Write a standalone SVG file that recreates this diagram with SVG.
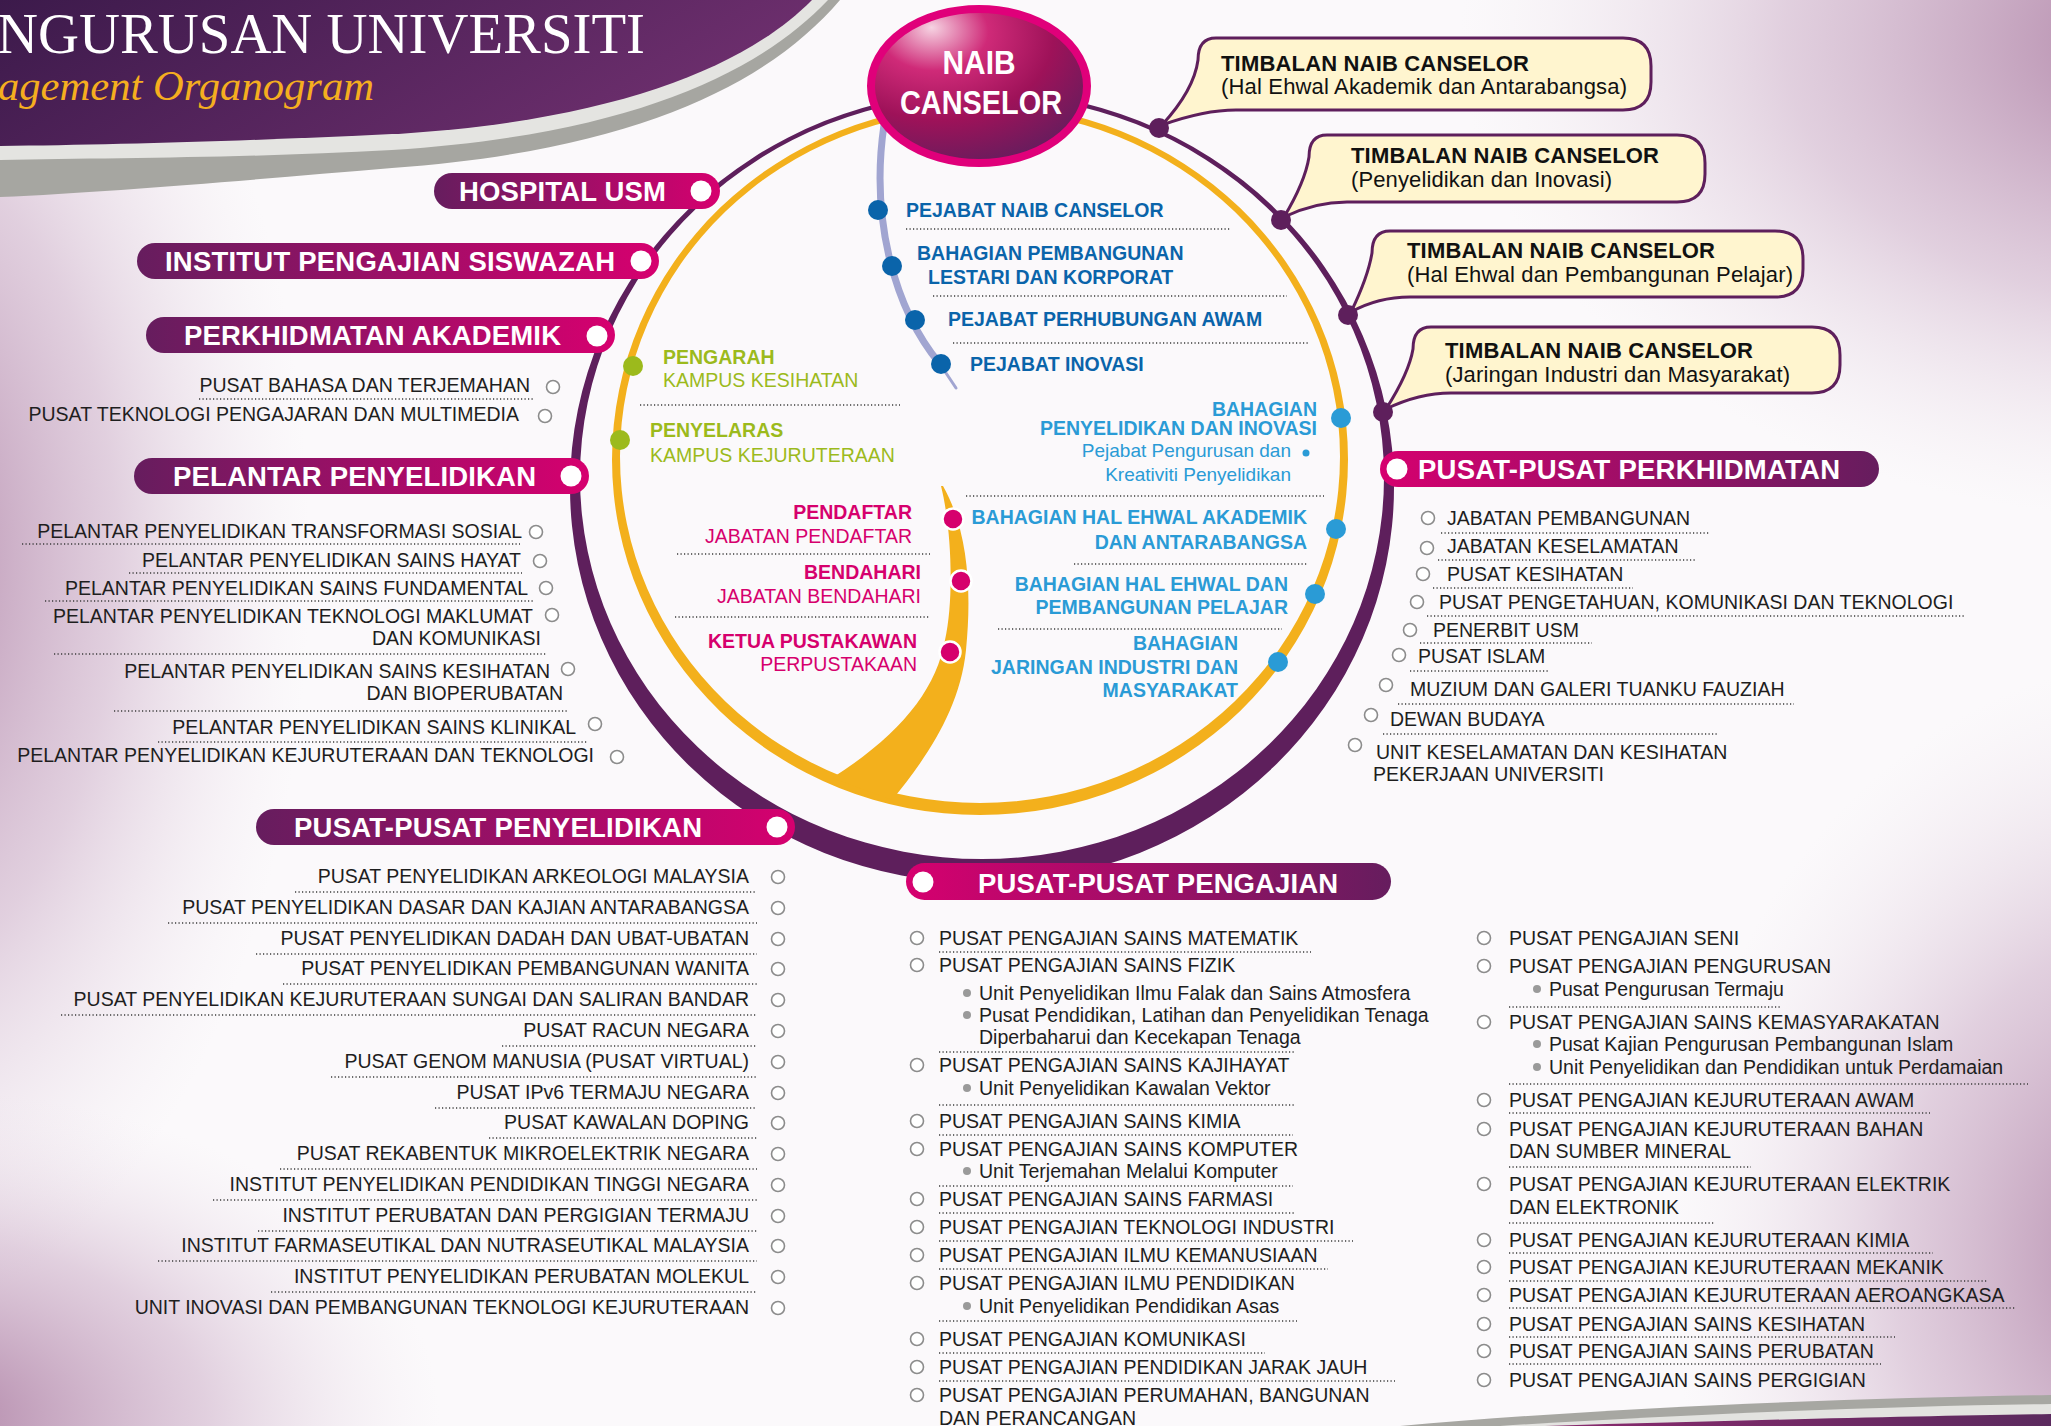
<svg xmlns="http://www.w3.org/2000/svg" width="2051" height="1426" viewBox="0 0 2051 1426">
<defs>
<radialGradient id="fadeP"><stop offset="0" stop-color="#A9799F" stop-opacity="0.95"/><stop offset="0.55" stop-color="#C7A6C2" stop-opacity="0.5"/><stop offset="1" stop-color="#E8DCE7" stop-opacity="0"/></radialGradient>
<linearGradient id="gTitle" x1="0" y1="0" x2="1" y2="0.3"><stop offset="0" stop-color="#3C1A4B"/><stop offset="1" stop-color="#6E2F6E"/></linearGradient>
<linearGradient id="pillL" x1="0" x2="1" y1="0" y2="0"><stop offset="0" stop-color="#661D5E"/><stop offset="1" stop-color="#D6006F"/></linearGradient>
<linearGradient id="pillR" x1="0" x2="1" y1="0" y2="0"><stop offset="0" stop-color="#D6006F"/><stop offset="1" stop-color="#661D5E"/></linearGradient>
<linearGradient id="gBot" x1="0" x2="1" y1="0" y2="0"><stop offset="0" stop-color="#8A2A6E"/><stop offset="1" stop-color="#5B2A5E"/></linearGradient>
<radialGradient id="gNC" cx="0.32" cy="0.22" r="0.9" fx="0.28" fy="0.12"><stop offset="0" stop-color="#F6D3E2"/><stop offset="0.28" stop-color="#CF2A78"/><stop offset="0.6" stop-color="#9E1259"/><stop offset="1" stop-color="#5A1F5E"/></radialGradient>
</defs>
<style>
.f{font-family:"Liberation Sans",Arial,sans-serif}
.pt{font-family:"Liberation Sans",Arial,sans-serif;font-weight:bold;font-size:27.5px;fill:#fff}
.pd{fill:#fff}
.li{font-family:"Liberation Sans",Arial,sans-serif;font-size:19.5px;fill:#1e1e1e}
.lr{text-anchor:end}
.oc{fill:#fff;stroke:#8c8c8c;stroke-width:1.6}
.bu{fill:#9a9a9a}
.dt{fill:none;stroke:#3c3c3c;stroke-width:1.3;stroke-dasharray:1.2 2.3}
.b{font-weight:bold}
.cb{fill:#0A64AA}
.cl{fill:#2A9BD6}
.cg{fill:#9CBA1C}
.cp{fill:#D6006D}
.pk{fill:#D6006D;stroke:#fff;stroke-width:2.5}
.bub{fill:#FFF5CF;stroke:#5E1F5C;stroke-width:3}
.tn{font-family:"Liberation Sans",Arial,sans-serif;font-size:22px;fill:#111}
.rd{fill:#5E1F5C}
</style>

<!-- background -->
<rect width="2051" height="1426" fill="#FBF9FB"/>
<ellipse cx="-120" cy="560" rx="430" ry="760" fill="url(#fadeP)"/>
<ellipse cx="-80" cy="1420" rx="520" ry="330" fill="url(#fadeP)"/>
<ellipse cx="2180" cy="40" rx="720" ry="480" fill="url(#fadeP)"/>
<ellipse cx="2170" cy="1260" rx="500" ry="600" fill="url(#fadeP)"/>

<!-- title banner -->
<g id="title">
<path d="M0,0 H840 C770,82 640,150 392,168 C250,180 110,192 0,197 Z" fill="#A6A6A1"/>
<path d="M0,0 H828 C758,74 628,135 392,150 C250,158 110,158 0,160 Z" fill="#E4E4E1"/>
<path d="M0,0 H812 C745,68 610,122 392,134 C250,141 110,145 0,146 Z" fill="url(#gTitle)"/>
<text x="-3" y="53" font-family="Liberation Serif, serif" font-size="58" fill="#fff" textLength="648" lengthAdjust="spacingAndGlyphs">NGURUSAN UNIVERSITI</text>
<text x="-2" y="100" font-family="Liberation Serif, serif" font-style="italic" font-size="42" fill="#F5AE1F" textLength="376" lengthAdjust="spacingAndGlyphs">agement Organogram</text>
</g>

<!-- bottom swoosh -->
<path d="M1400,1426 C1600,1408 1850,1398 2051,1395 V1426 Z" fill="#A7A7A2"/>
<path d="M1500,1426 C1700,1413 1900,1406 2051,1404 V1426 Z" fill="#E3E3E0"/>
<path d="M1545,1426 C1750,1420 1920,1416 2051,1414 V1426 Z" fill="url(#gBot)"/>

<!-- connectors -->
<g id="connectors">
<path fill="#F3B01C" fill-rule="evenodd" d="M612,459.5 A368,355.5 0 1 0 1348,459.5 A368,355.5 0 1 0 612,459.5 Z M620,456.5 A360,346.5 0 1 0 1340,456.5 A360,346.5 0 1 0 620,456.5 Z"/>
<path fill="#5E1F5C" fill-rule="evenodd" d="M570,487 A412,396 0 1 0 1394,487 A412,396 0 1 0 570,487 Z M580,477 A402,382 0 1 0 1384,477 A402,382 0 1 0 580,477 Z"/>
<path d="M884,125 C870,220 895,310 940,364" fill="none" stroke="#A1A5D1" stroke-width="7" stroke-linecap="round"/>
<path d="M940,364 Q948,376 956,388" fill="none" stroke="#A1A5D1" stroke-width="3" stroke-linecap="round"/>
<path d="M941,486 C952,530 954,600 945,640 C936,690 900,735 832,778 L892,800 C925,760 960,710 966,650 C972,590 968,530 943,486 Z" fill="#F3B01C"/>
</g>

<!-- Naib Canselor -->
<g id="naib-canselor">
<ellipse cx="979" cy="86" rx="108" ry="77" fill="url(#gNC)" stroke="#E0007A" stroke-width="8"/>
<text class="f b" x="979" y="74" font-size="33" fill="#fff" text-anchor="middle" textLength="73" lengthAdjust="spacingAndGlyphs">NAIB</text>
<text class="f b" x="981" y="114" font-size="33" fill="#fff" text-anchor="middle" textLength="162" lengthAdjust="spacingAndGlyphs">CANSELOR</text>
</g>

<!-- TNC callouts -->
<g id="tnc-akademik">
<path class="bub" d="M1216,38 H1623 Q1651,38 1651,66 V82 Q1651,110 1623,110 H1236 Q1204,110 1162,125 Q1194,90 1198,60 Q1198,38 1216,38 Z"/>
<circle class="rd" cx="1159" cy="128" r="10"/>
<text class="tn b" x="1221" y="71" textLength="308">TIMBALAN NAIB CANSELOR</text>
<text class="tn" x="1221" y="94" textLength="406">(Hal Ehwal Akademik dan Antarabangsa)</text>
</g>
<g id="tnc-penyelidikan">
<path class="bub" d="M1327,135 H1677 Q1705,135 1705,163 V174 Q1705,202 1677,202 H1347 Q1315,202 1284,217 Q1305,182 1309,157 Q1309,135 1327,135 Z"/>
<circle class="rd" cx="1281" cy="220" r="10"/>
<text class="tn b" x="1351" y="163" textLength="308">TIMBALAN NAIB CANSELOR</text>
<text class="tn" x="1351" y="187" textLength="261">(Penyelidikan dan Inovasi)</text>
</g>
<g id="tnc-pelajar">
<path class="bub" d="M1390,231 H1775 Q1803,231 1803,259 V269 Q1803,297 1775,297 H1410 Q1378,297 1351,312 Q1368,277 1372,253 Q1372,231 1390,231 Z"/>
<circle class="rd" cx="1348" cy="315" r="10"/>
<text class="tn b" x="1407" y="258" textLength="308">TIMBALAN NAIB CANSELOR</text>
<text class="tn" x="1407" y="282" textLength="386">(Hal Ehwal dan Pembangunan Pelajar)</text>
</g>
<g id="tnc-industri">
<path class="bub" d="M1431,327 H1812 Q1840,327 1840,355 V365 Q1840,393 1812,393 H1451 Q1419,393 1386,409 Q1409,373 1413,349 Q1413,327 1431,327 Z"/>
<circle class="rd" cx="1383" cy="412" r="10"/>
<text class="tn b" x="1445" y="358" textLength="308">TIMBALAN NAIB CANSELOR</text>
<text class="tn" x="1445" y="382" textLength="345">(Jaringan Industri dan Masyarakat)</text>
</g>

<!-- inner dark blue -->
<g id="pejabat-nc"><circle class="cb" cx="878" cy="210" r="10"/><text class="f b cb" x="906" y="217" font-size="19.5">PEJABAT NAIB CANSELOR</text><line class="dt" x1="906" y1="229" x2="1231" y2="229"/></g>
<g id="bahagian-lestari"><circle class="cb" cx="892" cy="266" r="10"/><text class="f b cb" x="917" y="260" font-size="19.5">BAHAGIAN PEMBANGUNAN</text><text class="f b cb" x="928" y="284" font-size="19.5">LESTARI DAN KORPORAT</text><line class="dt" x1="933" y1="296" x2="1287" y2="296"/></g>
<g id="pejabat-perhubungan"><circle class="cb" cx="915" cy="320" r="10"/><text class="f b cb" x="948" y="326" font-size="19.5">PEJABAT PERHUBUNGAN AWAM</text><line class="dt" x1="953" y1="343" x2="1310" y2="343"/></g>
<g id="pejabat-inovasi"><circle class="cb" cx="941" cy="364" r="10"/><text class="f b cb" x="970" y="371" font-size="19.5">PEJABAT INOVASI</text></g>

<!-- green -->
<g id="pengarah-kesihatan"><circle class="cg" cx="633" cy="366" r="10"/><text class="f b cg" x="663" y="364" font-size="19.5">PENGARAH</text><text class="f cg" x="663" y="387" font-size="19.5">KAMPUS KESIHATAN</text><line class="dt" x1="640" y1="405" x2="900" y2="405"/></g>
<g id="penyelaras-kejuruteraan"><circle class="cg" cx="620" cy="440" r="10"/><text class="f b cg" x="650" y="437" font-size="19.5">PENYELARAS</text><text class="f cg" x="650" y="462" font-size="19.5">KAMPUS KEJURUTERAAN</text></g>

<!-- light blue -->
<g id="bahagian-penyelidikan" text-anchor="end"><circle class="cl" cx="1341" cy="418" r="10"/><text class="f b cl" x="1317" y="416" font-size="19.5">BAHAGIAN</text><text class="f b cl" x="1317" y="435" font-size="19.5">PENYELIDIKAN DAN INOVASI</text><text class="f cl" x="1291" y="457" font-size="19">Pejabat Pengurusan dan</text><circle class="cl" cx="1306" cy="453" r="3.5"/><text class="f cl" x="1291" y="481" font-size="19">Kreativiti Penyelidikan</text><line class="dt" x1="966" y1="496" x2="1324" y2="496"/></g>
<g id="bahagian-akademik" text-anchor="end"><circle class="cl" cx="1336" cy="529" r="10"/><text class="f b cl" x="1307" y="524" font-size="19.5">BAHAGIAN HAL EHWAL AKADEMIK</text><text class="f b cl" x="1307" y="549" font-size="19.5">DAN ANTARABANGSA</text><line class="dt" x1="1074" y1="564" x2="1308" y2="564"/></g>
<g id="bahagian-pelajar" text-anchor="end"><circle class="cl" cx="1315" cy="594" r="10"/><text class="f b cl" x="1288" y="591" font-size="19.5">BAHAGIAN HAL EHWAL DAN</text><text class="f b cl" x="1288" y="614" font-size="19.5">PEMBANGUNAN PELAJAR</text><line class="dt" x1="998" y1="629" x2="1282" y2="629"/></g>
<g id="bahagian-jaringan" text-anchor="end"><circle class="cl" cx="1278" cy="662" r="10"/><text class="f b cl" x="1238" y="650" font-size="19.5">BAHAGIAN</text><text class="f b cl" x="1238" y="674" font-size="19.5">JARINGAN INDUSTRI DAN</text><text class="f b cl" x="1238" y="697" font-size="19.5">MASYARAKAT</text></g>

<!-- pink -->
<g id="pendaftar" text-anchor="end"><circle class="pk" cx="953" cy="519" r="10.5"/><text class="f b cp" x="912" y="519" font-size="19.5">PENDAFTAR</text><text class="f cp" x="912" y="543" font-size="19.5">JABATAN PENDAFTAR</text><line class="dt" x1="677" y1="554" x2="930" y2="554"/></g>
<g id="bendahari" text-anchor="end"><circle class="pk" cx="961" cy="581" r="10.5"/><text class="f b cp" x="921" y="579" font-size="19.5">BENDAHARI</text><text class="f cp" x="921" y="603" font-size="19.5">JABATAN BENDAHARI</text><line class="dt" x1="675" y1="617" x2="930" y2="617"/></g>
<g id="pustakawan" text-anchor="end"><circle class="pk" cx="950" cy="652" r="10.5"/><text class="f b cp" x="917" y="648" font-size="19.5">KETUA PUSTAKAWAN</text><text class="f cp" x="917" y="671" font-size="19.5">PERPUSTAKAAN</text></g>

<!-- left pills -->
<g id="hospital-usm"><rect x="434" y="173" width="286" height="36" rx="18" fill="url(#pillL)"/><text class="pt" x="459" y="201" textLength="207">HOSPITAL USM</text><circle class="pd" cx="701" cy="191" r="10.5"/></g>
<g id="institut-siswazah"><rect x="137" y="243" width="522" height="36" rx="18" fill="url(#pillL)"/><text class="pt" x="165" y="271" textLength="450">INSTITUT PENGAJIAN SISWAZAH</text><circle class="pd" cx="641" cy="261" r="10.5"/></g>
<g id="perkhidmatan-akademik"><rect x="146" y="317" width="469" height="36" rx="18" fill="url(#pillL)"/><text class="pt" x="184" y="345" textLength="377">PERKHIDMATAN AKADEMIK</text><circle class="pd" cx="597" cy="336" r="10.5"/>
<text class="li lr" x="530" y="392">PUSAT BAHASA DAN TERJEMAHAN</text><circle class="oc" cx="553" cy="387" r="6.5"/><line class="dt" x1="199" y1="399" x2="534" y2="399"/>
<text class="li lr" x="519" y="421">PUSAT TEKNOLOGI PENGAJARAN DAN MULTIMEDIA</text><circle class="oc" cx="545" cy="416" r="6.5"/>
</g>
<g id="pelantar-penyelidikan"><rect x="134" y="458" width="455" height="36" rx="18" fill="url(#pillL)"/><text class="pt" x="173" y="486" textLength="363">PELANTAR PENYELIDIKAN</text><circle class="pd" cx="571" cy="476" r="10.5"/>
<text class="li lr" x="522" y="538">PELANTAR PENYELIDIKAN TRANSFORMASI SOSIAL</text><circle class="oc" cx="536" cy="532" r="6.5"/><line class="dt" x1="22" y1="544" x2="520" y2="544"/>
<text class="li lr" x="521" y="567">PELANTAR PENYELIDIKAN SAINS HAYAT</text><circle class="oc" cx="540" cy="561" r="6.5"/><line class="dt" x1="129" y1="573" x2="522" y2="573"/>
<text class="li lr" x="528" y="595">PELANTAR PENYELIDIKAN SAINS FUNDAMENTAL</text><circle class="oc" cx="546" cy="588" r="6.5"/><line class="dt" x1="45" y1="601" x2="533" y2="601"/>
<text class="li lr" x="533" y="623">PELANTAR PENYELIDIKAN TEKNOLOGI MAKLUMAT</text><circle class="oc" cx="552" cy="615" r="6.5"/>
<text class="li lr" x="541" y="645">DAN KOMUNIKASI</text><line class="dt" x1="54" y1="654" x2="547" y2="654"/>
<text class="li lr" x="550" y="678">PELANTAR PENYELIDIKAN SAINS KESIHATAN</text><circle class="oc" cx="568" cy="669" r="6.5"/>
<text class="li lr" x="563" y="700">DAN BIOPERUBATAN</text><line class="dt" x1="114" y1="711" x2="569" y2="711"/>
<text class="li lr" x="576" y="734">PELANTAR PENYELIDIKAN SAINS KLINIKAL</text><circle class="oc" cx="595" cy="724" r="6.5"/><line class="dt" x1="158" y1="742" x2="588" y2="742"/>
<text class="li lr" x="594" y="762">PELANTAR PENYELIDIKAN KEJURUTERAAN DAN TEKNOLOGI</text><circle class="oc" cx="617" cy="757" r="6.5"/>
</g>

<!-- Pusat-pusat penyelidikan -->
<g id="pusat-penyelidikan"><rect x="256" y="809" width="539" height="36" rx="18" fill="url(#pillL)"/><text class="pt" x="294" y="837" textLength="408">PUSAT-PUSAT PENYELIDIKAN</text><circle class="pd" cx="777" cy="827" r="10.5"/>
<g class="li lr">
<text x="749" y="883">PUSAT PENYELIDIKAN ARKEOLOGI MALAYSIA</text>
<text x="749" y="914">PUSAT PENYELIDIKAN DASAR DAN KAJIAN ANTARABANGSA</text>
<text x="749" y="945">PUSAT PENYELIDIKAN DADAH DAN UBAT-UBATAN</text>
<text x="749" y="975">PUSAT PENYELIDIKAN PEMBANGUNAN WANITA</text>
<text x="749" y="1006">PUSAT PENYELIDIKAN KEJURUTERAAN SUNGAI DAN SALIRAN BANDAR</text>
<text x="749" y="1037">PUSAT RACUN NEGARA</text>
<text x="749" y="1068">PUSAT GENOM MANUSIA (PUSAT VIRTUAL)</text>
<text x="749" y="1099">PUSAT IPv6 TERMAJU NEGARA</text>
<text x="749" y="1129">PUSAT KAWALAN DOPING</text>
<text x="749" y="1160">PUSAT REKABENTUK MIKROELEKTRIK NEGARA</text>
<text x="749" y="1191">INSTITUT PENYELIDIKAN PENDIDIKAN TINGGI NEGARA</text>
<text x="749" y="1222">INSTITUT PERUBATAN DAN PERGIGIAN TERMAJU</text>
<text x="749" y="1252">INSTITUT FARMASEUTIKAL DAN NUTRASEUTIKAL MALAYSIA</text>
<text x="749" y="1283">INSTITUT PENYELIDIKAN PERUBATAN MOLEKUL</text>
<text x="749" y="1314">UNIT INOVASI DAN PEMBANGUNAN TEKNOLOGI KEJURUTERAAN</text>
</g>
<g class="oc">
<circle cx="778" cy="877" r="6.5"/><circle cx="778" cy="908" r="6.5"/><circle cx="778" cy="939" r="6.5"/><circle cx="778" cy="969" r="6.5"/><circle cx="778" cy="1000" r="6.5"/><circle cx="778" cy="1031" r="6.5"/><circle cx="778" cy="1062" r="6.5"/><circle cx="778" cy="1093" r="6.5"/><circle cx="778" cy="1123" r="6.5"/><circle cx="778" cy="1154" r="6.5"/><circle cx="778" cy="1185" r="6.5"/><circle cx="778" cy="1216" r="6.5"/><circle cx="778" cy="1246" r="6.5"/><circle cx="778" cy="1277" r="6.5"/><circle cx="778" cy="1308" r="6.5"/>
</g>
<g class="dt">
<line x1="295" y1="892" x2="757" y2="892"/><line x1="168" y1="923" x2="757" y2="923"/><line x1="256" y1="954" x2="757" y2="954"/><line x1="283" y1="984" x2="757" y2="984"/><line x1="61" y1="1015" x2="757" y2="1015"/><line x1="502" y1="1046" x2="757" y2="1046"/><line x1="331" y1="1077" x2="757" y2="1077"/><line x1="435" y1="1108" x2="757" y2="1108"/><line x1="489" y1="1138" x2="757" y2="1138"/><line x1="280" y1="1169" x2="757" y2="1169"/><line x1="213" y1="1200" x2="757" y2="1200"/><line x1="258" y1="1231" x2="757" y2="1231"/><line x1="158" y1="1261" x2="757" y2="1261"/><line x1="271" y1="1292" x2="757" y2="1292"/>
</g>
</g>

<!-- Pusat-pusat perkhidmatan -->
<g id="pusat-perkhidmatan"><rect x="1380" y="451" width="499" height="36" rx="18" fill="url(#pillR)"/><circle class="pd" cx="1397" cy="469" r="10.5"/><text class="pt" x="1418" y="479" textLength="422">PUSAT-PUSAT PERKHIDMATAN</text>
<g class="li">
<text x="1447" y="525">JABATAN PEMBANGUNAN</text>
<text x="1447" y="553">JABATAN KESELAMATAN</text>
<text x="1447" y="581">PUSAT KESIHATAN</text>
<text x="1439" y="609">PUSAT PENGETAHUAN, KOMUNIKASI DAN TEKNOLOGI</text>
<text x="1433" y="637">PENERBIT USM</text>
<text x="1418" y="663">PUSAT ISLAM</text>
<text x="1410" y="696">MUZIUM DAN GALERI TUANKU FAUZIAH</text>
<text x="1390" y="726">DEWAN BUDAYA</text>
<text x="1376" y="759">UNIT KESELAMATAN DAN KESIHATAN</text>
<text x="1373" y="781">PEKERJAAN UNIVERSITI</text>
</g>
<g class="oc">
<circle cx="1428" cy="518" r="6.5"/><circle cx="1427" cy="548" r="6.5"/><circle cx="1423" cy="574" r="6.5"/><circle cx="1417" cy="602" r="6.5"/><circle cx="1410" cy="630" r="6.5"/><circle cx="1399" cy="655" r="6.5"/><circle cx="1386" cy="685" r="6.5"/><circle cx="1371" cy="715" r="6.5"/><circle cx="1355" cy="745" r="6.5"/>
</g>
<g class="dt">
<line x1="1441" y1="533" x2="1709" y2="533"/><line x1="1438" y1="560" x2="1695" y2="560"/><line x1="1433" y1="588" x2="1633" y2="588"/><line x1="1427" y1="616" x2="1965" y2="616"/><line x1="1420" y1="643" x2="1592" y2="643"/><line x1="1410" y1="671" x2="1548" y2="671"/><line x1="1398" y1="704" x2="1794" y2="704"/><line x1="1383" y1="734" x2="1718" y2="734"/>
</g>
</g>

<!-- Pusat-pusat pengajian -->
<g id="pusat-pengajian"><rect x="906" y="863" width="485" height="37" rx="18.5" fill="url(#pillR)"/><circle class="pd" cx="923" cy="882" r="10.5"/><text class="pt" x="978" y="893" textLength="360">PUSAT-PUSAT PENGAJIAN</text>
<g class="li">
<text x="939" y="945">PUSAT PENGAJIAN SAINS MATEMATIK</text>
<text x="939" y="972">PUSAT PENGAJIAN SAINS FIZIK</text>
<text x="979" y="1000">Unit Penyelidikan Ilmu Falak dan Sains Atmosfera</text>
<text x="979" y="1022">Pusat Pendidikan, Latihan dan Penyelidikan Tenaga</text>
<text x="979" y="1044">Diperbaharui dan Kecekapan Tenaga</text>
<text x="939" y="1072">PUSAT PENGAJIAN SAINS KAJIHAYAT</text>
<text x="979" y="1095">Unit Penyelidikan Kawalan Vektor</text>
<text x="939" y="1128">PUSAT PENGAJIAN SAINS KIMIA</text>
<text x="939" y="1156">PUSAT PENGAJIAN SAINS KOMPUTER</text>
<text x="979" y="1178">Unit Terjemahan Melalui Komputer</text>
<text x="939" y="1206">PUSAT PENGAJIAN SAINS FARMASI</text>
<text x="939" y="1234">PUSAT PENGAJIAN TEKNOLOGI INDUSTRI</text>
<text x="939" y="1262">PUSAT PENGAJIAN ILMU KEMANUSIAAN</text>
<text x="939" y="1290">PUSAT PENGAJIAN ILMU PENDIDIKAN</text>
<text x="979" y="1313">Unit Penyelidikan Pendidikan Asas</text>
<text x="939" y="1346">PUSAT PENGAJIAN KOMUNIKASI</text>
<text x="939" y="1374">PUSAT PENGAJIAN PENDIDIKAN JARAK JAUH</text>
<text x="939" y="1402">PUSAT PENGAJIAN PERUMAHAN, BANGUNAN</text>
<text x="939" y="1425">DAN PERANCANGAN</text>
<text x="1509" y="945">PUSAT PENGAJIAN SENI</text>
<text x="1509" y="973">PUSAT PENGAJIAN PENGURUSAN</text>
<text x="1549" y="996">Pusat Pengurusan Termaju</text>
<text x="1509" y="1029">PUSAT PENGAJIAN SAINS KEMASYARAKATAN</text>
<text x="1549" y="1051">Pusat Kajian Pengurusan Pembangunan Islam</text>
<text x="1549" y="1074">Unit Penyelidikan dan Pendidikan untuk Perdamaian</text>
<text x="1509" y="1107">PUSAT PENGAJIAN KEJURUTERAAN AWAM</text>
<text x="1509" y="1136">PUSAT PENGAJIAN KEJURUTERAAN BAHAN</text>
<text x="1509" y="1158">DAN SUMBER MINERAL</text>
<text x="1509" y="1191">PUSAT PENGAJIAN KEJURUTERAAN ELEKTRIK</text>
<text x="1509" y="1214">DAN ELEKTRONIK</text>
<text x="1509" y="1247">PUSAT PENGAJIAN KEJURUTERAAN KIMIA</text>
<text x="1509" y="1274">PUSAT PENGAJIAN KEJURUTERAAN MEKANIK</text>
<text x="1509" y="1302">PUSAT PENGAJIAN KEJURUTERAAN AEROANGKASA</text>
<text x="1509" y="1331">PUSAT PENGAJIAN SAINS KESIHATAN</text>
<text x="1509" y="1358">PUSAT PENGAJIAN SAINS PERUBATAN</text>
<text x="1509" y="1387">PUSAT PENGAJIAN SAINS PERGIGIAN</text>
</g>
<g class="oc">
<circle cx="917" cy="938" r="6.5"/><circle cx="917" cy="965" r="6.5"/><circle cx="917" cy="1065" r="6.5"/><circle cx="917" cy="1121" r="6.5"/><circle cx="917" cy="1149" r="6.5"/><circle cx="917" cy="1199" r="6.5"/><circle cx="917" cy="1227" r="6.5"/><circle cx="917" cy="1255" r="6.5"/><circle cx="917" cy="1283" r="6.5"/><circle cx="917" cy="1339" r="6.5"/><circle cx="917" cy="1367" r="6.5"/><circle cx="917" cy="1395" r="6.5"/>
<circle cx="1484" cy="938" r="6.5"/><circle cx="1484" cy="966" r="6.5"/><circle cx="1484" cy="1022" r="6.5"/><circle cx="1484" cy="1100" r="6.5"/><circle cx="1484" cy="1129" r="6.5"/><circle cx="1484" cy="1184" r="6.5"/><circle cx="1484" cy="1240" r="6.5"/><circle cx="1484" cy="1267" r="6.5"/><circle cx="1484" cy="1295" r="6.5"/><circle cx="1484" cy="1324" r="6.5"/><circle cx="1484" cy="1351" r="6.5"/><circle cx="1484" cy="1380" r="6.5"/>
</g>
<g class="bu">
<circle cx="967" cy="993" r="4"/><circle cx="967" cy="1015" r="4"/><circle cx="967" cy="1088" r="4"/><circle cx="967" cy="1171" r="4"/><circle cx="967" cy="1306" r="4"/>
<circle cx="1537" cy="989" r="4"/><circle cx="1537" cy="1044" r="4"/><circle cx="1537" cy="1067" r="4"/>
</g>
<g class="dt">
<line x1="939" y1="952" x2="1311" y2="952"/><line x1="939" y1="1052" x2="1295" y2="1052"/><line x1="939" y1="1105" x2="1295" y2="1105"/><line x1="939" y1="1135" x2="1293" y2="1135"/><line x1="939" y1="1186" x2="1293" y2="1186"/><line x1="939" y1="1213" x2="1295" y2="1213"/><line x1="939" y1="1241" x2="1353" y2="1241"/><line x1="939" y1="1269" x2="1328" y2="1269"/><line x1="939" y1="1321" x2="1297" y2="1321"/><line x1="939" y1="1353" x2="1265" y2="1353"/><line x1="939" y1="1381" x2="1395" y2="1381"/>
<line x1="1509" y1="1007" x2="1780" y2="1007"/><line x1="1509" y1="1084" x2="2028" y2="1084"/><line x1="1509" y1="1113" x2="1930" y2="1113"/><line x1="1509" y1="1167" x2="1751" y2="1167"/><line x1="1509" y1="1223" x2="1714" y2="1223"/><line x1="1509" y1="1253" x2="1933" y2="1253"/><line x1="1509" y1="1281" x2="1987" y2="1281"/><line x1="1509" y1="1308" x2="2016" y2="1308"/><line x1="1509" y1="1337" x2="1895" y2="1337"/><line x1="1509" y1="1364" x2="1881" y2="1364"/>
</g>
</g>
</svg>
